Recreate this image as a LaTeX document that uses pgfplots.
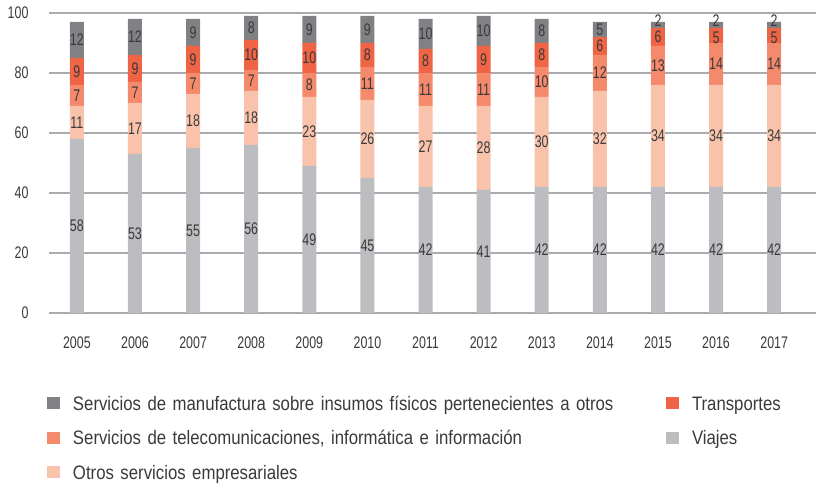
\documentclass[border=0pt]{standalone}
\usepackage{pgfplots}
\pgfplotsset{compat=1.18}
\usepackage{pgfplotstable}
\usepackage{fontspec}
\setmainfont{Liberation Sans}[FakeStretch=0.86]
\newfontfamily\numfont{Liberation Sans}[FakeStretch=0.74]
\definecolor{cViajes}{HTML}{BCBDC0}
\definecolor{cOtros}{HTML}{F8C3AA}
\definecolor{cTele}{HTML}{F4896B}
\definecolor{cTrans}{HTML}{EE6444}
\definecolor{cManu}{HTML}{808184}
\definecolor{cGrid}{HTML}{AAABAE}
\definecolor{cText}{HTML}{3A3A3C}

\pgfplotstableread{
x yr viajes otros tele trans manu
0 2005 58 11 7 9 12
1 2006 53 17 7 9 12
2 2007 55 18 7 9 9
3 2008 56 18 7 10 8
4 2009 49 23 8 10 9
5 2010 45 26 11 8 9
6 2011 42 27 11 8 10
7 2012 41 28 11 9 10
8 2013 42 30 10 8 8
9 2014 42 32 12 6 5
10 2015 42 34 13 6 2
11 2016 42 34 14 5 2
12 2017 42 34 14 5 2
}\datatable

\pgfplotsset{
  seg/.style 2 args={fill=#1, draw=none, forget plot,
    point meta=explicit symbolic,
    nodes near coords={\raisebox{#2}{\pgfplotspointmeta}},
    every node near coord/.append style={anchor=base, inner sep=0pt,
      font=\numfont\fontsize{16.8}{19}\selectfont, text=cText},
  }
}

\begin{document}
\begin{tikzpicture}
\useasboundingbox (-49pt,-173pt) rectangle (767pt,313pt);
\begin{axis}[
  scale only axis, width=767pt, height=300pt,
  xmin=-0.48, xmax=12.72, ymin=0, ymax=100,
  ybar stacked, bar width=14pt,
  axis line style={draw=none},
  major tick length=0pt,
  ymajorgrids, grid style={color=cGrid, line width=1.2pt},
  xtick={0,...,12},
  xticklabels={2005,2006,2007,2008,2009,2010,2011,2012,2013,2014,2015,2016,2017},
  ytick={0,20,40,60,80,100},
  /pgf/number format/assume math mode=true,
  ticklabel style={font=\numfont\fontsize{16.8}{19}\selectfont, text=cText},
  yticklabel style={anchor=east, xshift=-17pt},
  xticklabel style={anchor=north, yshift=-20pt},
  legend columns=2,
  legend cell align=left,
  legend image code/.code={\fill[#1] (0pt,1pt) rectangle (13pt,13pt);},
  legend style={draw=none, fill=none, inner sep=0pt, outer sep=0pt,
    at={(0,0)}, anchor=north west, xshift=-2pt, yshift=-83pt,
    font=\fontsize{19.5}{22}\selectfont, text=cText,
    row sep=16.5pt,
    cells={anchor=base west},
    nodes={inner sep=0pt, text height=14pt, text depth=4pt},
    /tikz/every odd column/.append style={column sep=13pt},
    /tikz/column 2/.append style={nodes={text width=593pt}},
  },
]
\addplot[seg={cViajes}{-6pt}] table[x=x, y=viajes, meta=viajes] {\datatable};
\addplot[seg={cOtros}{-6pt}] table[x=x, y=otros, meta=otros] {\datatable};
\addplot[seg={cTele}{-6pt}] table[x=x, y=tele, meta=tele] {\datatable};
\addplot[seg={cTrans}{\ifnum\pgfplotspointmeta<6 -8pt\else -6pt\fi}] table[x=x, y=trans, meta=trans] {\datatable};
\addplot[seg={cManu}{\ifnum\pgfplotspointmeta<3 -1.5pt\else -6pt\fi}] table[x=x, y=manu, meta=manu] {\datatable};

\addlegendimage{fill=cManu, draw=none}
\addlegendentry{Servicios de manufactura sobre insumos físicos pertenecientes a otros}
\addlegendimage{fill=cTrans, draw=none}
\addlegendentry{Transportes}
\addlegendimage{fill=cTele, draw=none}
\addlegendentry{Servicios de telecomunicaciones, informática e información}
\addlegendimage{fill=cViajes, draw=none}
\addlegendentry{Viajes}
\addlegendimage{fill=cOtros, draw=none}
\addlegendentry{Otros servicios empresariales}
\end{axis}
\end{tikzpicture}
\end{document}
